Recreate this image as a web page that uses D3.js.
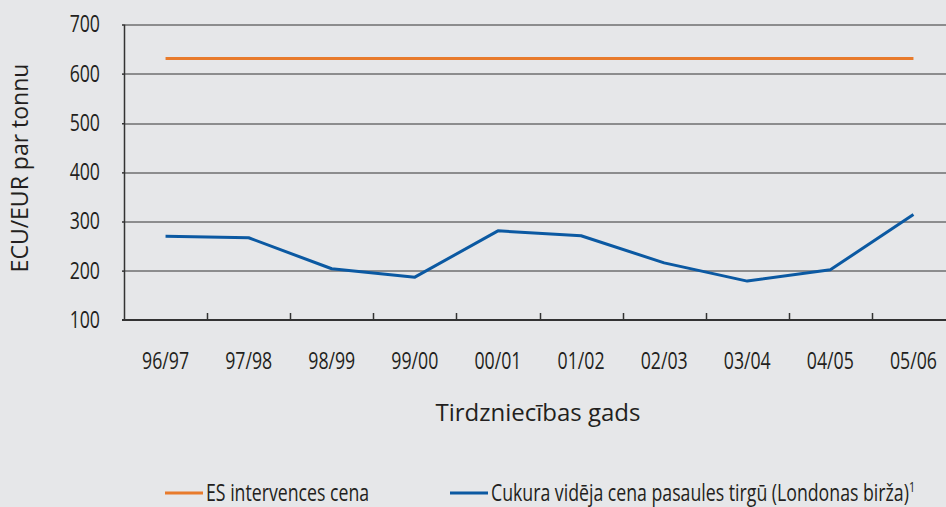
<!DOCTYPE html>
<html>
<head>
<meta charset="utf-8">
<script src="https://cdn.jsdelivr.net/npm/d3@7"></script>
<style>
  html, body { margin: 0; padding: 0; background: #e6e7e9; overflow: hidden; }
  svg text { font-family: "Open Sans", "Noto Sans", sans-serif; }
</style>
</head>
<body>
<div id="chart"></div>
<script>
// Data
var seasons = ['96/97', '97/98', '98/99', '99/00', '00/01', '01/02', '02/03', '03/04', '04/05', '05/06'];
var interventionPrice = [631, 631, 631, 631, 631, 631, 631, 631, 631, 631];
var worldPrice = [270, 267, 204, 187, 281, 271, 216, 179, 202, 314];
var yTicks = [100, 200, 300, 400, 500, 600, 700];
var seriesNames = ['ES intervences cena', 'Cukura vidēja cena pasaules tirgū (Londonas birža)'];
var seriesColors = ['#e87b2c', '#0b59a2'];

var svgWidth = 946;
var svgHeight = 507;

// no condensed face installed, so squeeze the normal one
var narrow = 0.77;
var textColor = '#231f20';

// plot area (right edge runs past the window, as in the reference)
var margin = { top: 24.5, left: 124 };
var plotWidth = 831;
var plotHeight = 295.5;

var svg = d3.select('#chart')
  .append('svg')
  .attr('width', svgWidth)
  .attr('height', svgHeight);

svg.append('rect')
  .attr('width', svgWidth)
  .attr('height', svgHeight)
  .attr('fill', '#e6e7e9');

var g = svg.append('g')
  .attr('transform', `translate(${margin.left}, ${margin.top})`);

var xScale = d3.scaleBand()
  .domain(seasons)
  .range([0, plotWidth]);

var yScale = d3.scaleLinear()
  .domain([100, 700])
  .range([plotHeight, 0]);

// horizontal grid lines
g.append('g')
  .selectAll('line')
  .data(yTicks.slice(1))
  .enter()
  .append('line')
  .attr('x1', -2)
  .attr('x2', plotWidth)
  .attr('y1', d => Math.round(yScale(d)) + 0.5)
  .attr('y2', d => Math.round(yScale(d)) + 0.5)
  .attr('stroke', '#333')
  .attr('stroke-width', 1);

// y axis labels
var yAxis = d3.axisLeft(yScale)
  .tickValues(yTicks)
  .tickSize(2);

var yAxisG = g.append('g').call(yAxis);
yAxisG.select('.domain')
  .attr('d', `M0.5,${plotHeight}V0`)
  .attr('stroke', '#333')
  .attr('stroke-width', 1.5);
yAxisG.selectAll('.tick line').attr('stroke', '#333');
yAxisG.selectAll('text')
  .attr('x', 0)
  .attr('transform', `translate(-24, 0) scale(${narrow}, 1)`)
  .attr('font-size', 23)
  .attr('font-family', null)
  .attr('fill', textColor);

// x axis: ticks between categories, pointing up
var xAxisG = g.append('g')
  .attr('transform', `translate(0, ${plotHeight})`);

xAxisG.append('line')
  .attr('x1', -2)
  .attr('x2', plotWidth)
  .attr('y1', 0)
  .attr('y2', 0)
  .attr('stroke', '#333')
  .attr('stroke-width', 2);

xAxisG.selectAll('.xtick')
  .data(seasons.slice(1))
  .enter()
  .append('line')
  .attr('class', 'xtick')
  .attr('x1', d => Math.round(xScale(d)) + 0.5)
  .attr('x2', d => Math.round(xScale(d)) + 0.5)
  .attr('y1', 0)
  .attr('y2', -7)
  .attr('stroke', '#333')
  .attr('stroke-width', 1.5);

xAxisG.selectAll('.xlabel')
  .data(seasons)
  .enter()
  .append('text')
  .attr('class', 'xlabel')
  .attr('transform', d => `translate(${xScale(d) + xScale.bandwidth() / 2}, 48.5) scale(${narrow}, 1)`)
  .attr('text-anchor', 'middle')
  .attr('font-size', 23)
  .attr('fill', textColor)
  .text(d => d);

// lines
var line = d3.line()
  .x((d, i) => xScale(seasons[i]) + xScale.bandwidth() / 2)
  .y(d => yScale(d));

[interventionPrice, worldPrice].forEach(function(values, i) {
  g.append('path')
    .datum(values)
    .attr('fill', 'none')
    .attr('stroke', seriesColors[i])
    .attr('stroke-width', 3)
    .attr('stroke-linejoin', 'round')
    .attr('d', line);
});

// axis titles
svg.append('text')
  .attr('transform', 'translate(28, 168) rotate(-90)')
  .attr('text-anchor', 'middle')
  .attr('font-size', 23)
  .attr('fill', textColor)
  .text('ECU/EUR par tonnu');

svg.append('text')
  .attr('x', 538)
  .attr('y', 421)
  .attr('text-anchor', 'middle')
  .attr('font-size', 24)
  .attr('fill', textColor)
  .text('Tirdzniecības gads');

// legend
var legendX = [165, 450];
var legend = svg.append('g');
seriesNames.forEach(function(name, i) {
  legend.append('line')
    .attr('x1', legendX[i])
    .attr('x2', legendX[i] + 38)
    .attr('y1', 493)
    .attr('y2', 493)
    .attr('stroke', seriesColors[i])
    .attr('stroke-width', 3);
  var t = legend.append('text')
    .attr('transform', `translate(${legendX[i] + 41}, 500.5) scale(${narrow}, 1)`)
    .attr('font-size', 23)
    .attr('fill', textColor)
    .text(name);
  if (i === 1) {
    t.append('tspan')
      .attr('dy', -9)
      .attr('font-size', 14)
      .text('1');
  }
});
</script>
</body>
</html>
